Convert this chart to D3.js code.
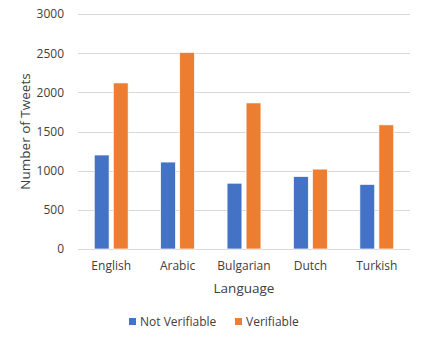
<!DOCTYPE html>
<html>
<head>
<script src="https://d3js.org/d3.v7.min.js"></script>
<style>
body {margin:0; background:white;}
text {font-family: "Open Sans", "Liberation Sans", sans-serif; fill:#404040;}
</style>
</head>
<body>
<svg width="423" height="343"></svg>
<script>
var languages = ["English", "Arabic", "Bulgarian", "Dutch", "Turkish"];
var seriesNames = ["Not Verifiable", "Verifiable"];
var notVerifiable = [1200, 1110, 840, 925, 825];
var verifiable = [2120, 2510, 1865, 1020, 1585];
var yTicks = [0, 500, 1000, 1500, 2000, 2500, 3000];
var colors = ["#4472C4", "#ED7D31"];

var svg = d3.select("svg");
var plotLeft = 78, plotRight = 410, plotTop = 14, plotBottom = 249;

var x = d3.scaleBand().domain(languages).range([plotLeft, plotRight]).paddingInner(0.49).paddingOuter(0.245);
var xs = d3.scaleBand().domain(seriesNames).range([0, x.bandwidth()]).paddingInner(0.22);
var y = d3.scaleLinear().domain([0, 3000]).range([plotBottom, plotTop]);
var color = d3.scaleOrdinal().domain(seriesNames).range(colors);

// gridlines
svg.append("g")
  .selectAll("line")
  .data(yTicks)
  .enter()
  .append("line")
  .attr("x1", plotLeft).attr("x2", plotRight)
  .attr("y1", function(d) {return Math.round(y(d)) + 0.5;})
  .attr("y2", function(d) {return Math.round(y(d)) + 0.5;})
  .attr("stroke", "#d9d9d9")
  .attr("stroke-width", 1);

var rows = languages.map(function(l, i) {
  return {lang: l, values: [notVerifiable[i], verifiable[i]]};
});

svg.append("g")
  .selectAll("g")
  .data(rows)
  .enter()
  .append("g")
  .attr("transform", function(d) {return "translate(" + x(d.lang) + ",0)";})
  .selectAll("rect")
  .data(function(d) {return d.values.map(function(v, j) {return {s: seriesNames[j], v: v};});})
  .enter()
  .append("rect")
  .attr("x", function(d) {return xs(d.s);})
  .attr("width", xs.bandwidth())
  .attr("y", function(d) {return y(d.v);})
  .attr("height", function(d) {return y(0) - y(d.v);})
  .attr("fill", function(d) {return color(d.s);})
  .attr("stroke", "white")
  .attr("stroke-width", 0.7);

// y axis labels
var yAxis = d3.axisLeft(y).tickValues(yTicks).tickFormat(d3.format("d")).tickSize(0).tickPadding(14);
svg.append("g")
  .attr("transform", "translate(" + plotLeft + ",0)")
  .call(yAxis)
  .call(function(g) {g.select(".domain").remove();})
  .selectAll("text")
  .style("font-size", "12px")
  .style("font-family", "'Open Sans', sans-serif")
  .attr("fill", "#404040");

// x axis labels
var xAxis = d3.axisBottom(x).tickSize(0).tickPadding(12);
svg.append("g")
  .attr("transform", "translate(0," + plotBottom + ")")
  .call(xAxis)
  .call(function(g) {g.select(".domain").remove();})
  .selectAll("text")
  .style("font-size", "12px")
  .style("font-family", "'Open Sans', sans-serif")
  .attr("fill", "#404040");

svg.append("text")
  .attr("transform", "translate(30," + ((plotTop + plotBottom) / 2) + ") rotate(-90)")
  .attr("text-anchor", "middle")
  .style("font-size", "13.5px")
  .text("Number of Tweets");

svg.append("text")
  .attr("x", (plotLeft + plotRight) / 2)
  .attr("y", 293)
  .attr("text-anchor", "middle")
  .style("font-size", "13.5px")
  .text("Language");

// legend
var legendX = [129, 235];
var legend = svg.append("g")
  .selectAll("g")
  .data(seriesNames)
  .enter()
  .append("g")
  .attr("transform", function(d, i) {return "translate(" + legendX[i] + ",318)";});
legend.append("rect")
  .attr("width", 7).attr("height", 7)
  .attr("fill", function(d) {return color(d);});
legend.append("text")
  .attr("x", 11).attr("y", 7.5)
  .style("font-size", "12px")
  .text(function(d) {return d;});
</script>
</body>
</html>
